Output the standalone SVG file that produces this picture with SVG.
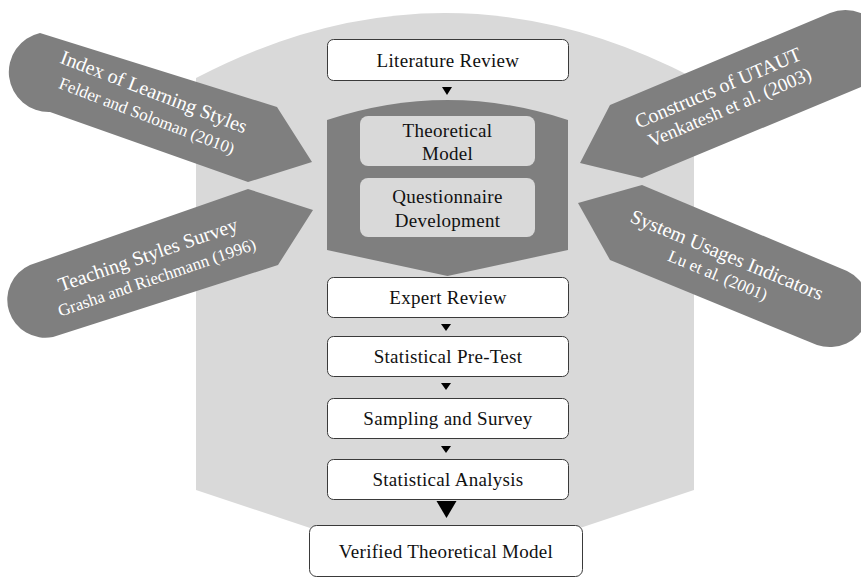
<svg xmlns="http://www.w3.org/2000/svg" width="861" height="578" viewBox="0 0 861 578">
<style>
.bg{fill:#d9d9d9}
.dark{fill:#7f7f7f}
.box{fill:#ffffff;stroke:#3a3a3a;stroke-width:1}
.inner{fill:#d9d9d9}
.t{font-family:"Liberation Serif","Times New Roman",serif;font-size:19px;fill:#111;text-anchor:middle;letter-spacing:0.3px}
.at1{font-family:"Liberation Serif","Times New Roman",serif;font-size:20px;fill:#ffffff;text-anchor:middle}
.at2{font-family:"Liberation Serif","Times New Roman",serif;font-size:17px;fill:#ffffff;text-anchor:middle}
.tri{fill:#000}
</style>
<rect width="861" height="578" fill="#ffffff"/>
<g id="background">
<path class="bg" d="M196,78 Q445,-52 694,78 L694,490 L445,573 L196,490 Z"/>
</g>
<g id="arrow-learning-styles">
<path class="dark" d="M40,33 L277,107 L312,162 L248,182 L50,112 A40 40 0 0 1 40,33 Z"/>
<g transform="translate(150,105) rotate(21)">
<text class="at1" x="-1" y="-7">Index of Learning Styles</text>
<text class="at2" x="1" y="17">Felder and Soloman (2010)</text>
</g>
</g>
<g id="arrow-teaching-styles">
<path class="dark" d="M248,189 L313,210 L278,265 L53,337 A38 38 0 0 1 30,265 Z"/>
<g transform="translate(152.5,266.5) rotate(-19)">
<text class="at1" x="-0.5" y="-6">Teaching Styles Survey</text>
<text class="at2" x="0.5" y="17.5">Grasha and Riechmann (1996)</text>
</g>
</g>
<g id="arrow-utaut">
<path class="dark" d="M610,105 L830,13 A40 40 0 0 1 861,87 L642,178 L580,163 Z"/>
<g transform="translate(724,98) rotate(-23)">
<text class="at1" x="-1.6" y="-5">Constructs of UTAUT</text>
<text class="at2" x="1.6" y="17" style="font-size:19px">Venkatesh et al. (2003)</text>
</g>
</g>
<g id="arrow-system-usage">
<path class="dark" d="M642,185 L847,271 A40 40 0 0 1 817,345 L610,260 L578,203 Z"/>
<g transform="translate(722.5,265) rotate(22.5)">
<text class="at1" x="0.3" y="-4.5">System Usages Indicators</text>
<text class="at2" x="-0.3" y="17">Lu et al. (2001)</text>
</g>
</g>
<g id="literature-review">
<rect class="box" x="327.5" y="39.5" width="241" height="41" rx="6"/>
<text class="t" x="448" y="67">Literature Review</text>
</g>
<g id="model-development">
<path class="dark" d="M327,120 Q447.5,80 568,120 L568,250 L447.5,276 L327,250 Z"/>
<g id="theoretical-model">
<rect class="inner" x="360" y="116" width="175" height="50" rx="8"/>
<text class="t" x="447.5" y="137">Theoretical</text>
<text class="t" x="447.5" y="160">Model</text>
</g>
<g id="questionnaire-development">
<rect class="inner" x="360" y="178" width="175" height="59" rx="8"/>
<text class="t" x="447.5" y="203">Questionnaire</text>
<text class="t" x="447.5" y="227">Development</text>
</g>
</g>
<g id="expert-review">
<rect class="box" x="327.5" y="277.5" width="241" height="40" rx="6"/>
<text class="t" x="448" y="303.5">Expert Review</text>
</g>
<g id="statistical-pre-test">
<rect class="box" x="327.5" y="336.5" width="241" height="40" rx="6"/>
<text class="t" x="448" y="363">Statistical Pre-Test</text>
</g>
<g id="sampling-survey">
<rect class="box" x="327.5" y="398.5" width="241" height="40" rx="6"/>
<text class="t" x="448" y="425">Sampling and Survey</text>
</g>
<g id="statistical-analysis">
<rect class="box" x="327.5" y="459.5" width="241" height="40" rx="6"/>
<text class="t" x="448" y="486">Statistical Analysis</text>
</g>
<g id="verified-model">
<rect class="box" x="309.5" y="525.5" width="273" height="51" rx="7"/>
<text class="t" x="446" y="558">Verified Theoretical Model</text>
</g>
<g id="connectors">
<polygon class="tri" points="442,87 452,87 447,95"/>
<polygon class="tri" points="441,324 451,324 446,331"/>
<polygon class="tri" points="441,383 451,383 446,390"/>
<polygon class="tri" points="441,446 451,446 446,453"/>
<polygon class="tri" points="436.5,501 456.5,501 446.5,518"/>
</g>
</svg>
